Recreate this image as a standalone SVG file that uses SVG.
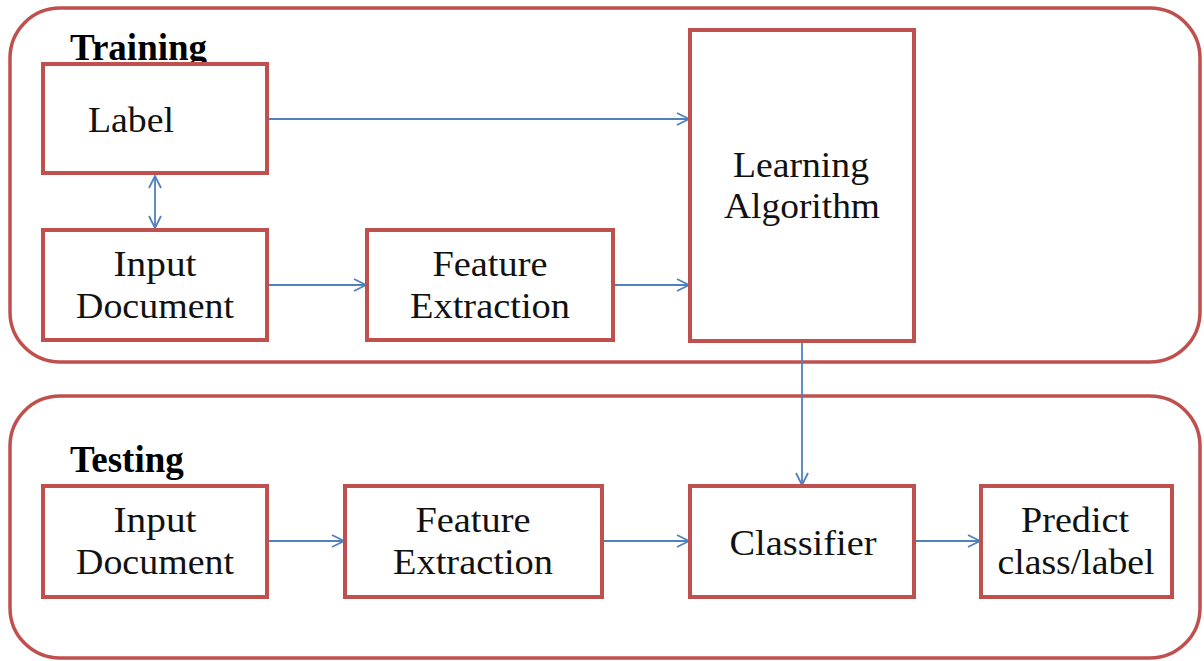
<svg xmlns="http://www.w3.org/2000/svg" width="1204" height="661" viewBox="0 0 1204 661">
<defs>
<style>
.box{fill:#fff;stroke:#c0504d;stroke-width:4}
.cont{fill:none;stroke:#c0504d;stroke-width:3.5}
.t{font-family:'Liberation Serif','Times New Roman',serif;font-size:36px;fill:#111;text-anchor:middle}
.h{font-family:'Liberation Serif','Times New Roman',serif;font-size:37px;font-weight:bold;fill:#000}
.c{fill:none;stroke:#4f81bd;stroke-width:1.8}
</style>
<marker id="ah" viewBox="0 0 14 14" refX="13" refY="7" markerWidth="14" markerHeight="14" markerUnits="userSpaceOnUse" orient="auto-start-reverse">
<path d="M1,1 L13,7 L1,13" fill="none" stroke="#4f81bd" stroke-width="1.8"/>
</marker>
</defs>
<rect width="1204" height="661" fill="#fff"/>
<g id="training">
<rect class="cont" x="10" y="8" width="1190" height="354" rx="50" ry="50"/>
<text class="h" x="70" y="60">Training</text>
</g>
<g id="testing">
<rect class="cont" x="10" y="396" width="1190" height="262" rx="50" ry="50"/>
<text class="h" x="70" y="472">Testing</text>
</g>
<g id="connectors">
<line class="c" x1="268" y1="119" x2="689" y2="119" marker-end="url(#ah)"/>
<line class="c" x1="155" y1="176" x2="155" y2="228" marker-start="url(#ah)" marker-end="url(#ah)"/>
<line class="c" x1="268" y1="285" x2="366" y2="285" marker-end="url(#ah)"/>
<line class="c" x1="614" y1="285" x2="689" y2="285" marker-end="url(#ah)"/>
<line class="c" x1="802" y1="342" x2="802" y2="485" marker-end="url(#ah)"/>
<line class="c" x1="268" y1="541" x2="344" y2="541" marker-end="url(#ah)"/>
<line class="c" x1="603" y1="541" x2="689" y2="541" marker-end="url(#ah)"/>
<line class="c" x1="915" y1="541" x2="980" y2="541" marker-end="url(#ah)"/>
</g>
<g id="label">
<rect class="box" x="43" y="64" width="224" height="109"/>
<text class="t" x="131" y="132" textLength="86" lengthAdjust="spacingAndGlyphs">Label</text>
</g>
<g id="input-doc-train">
<rect class="box" x="43" y="230" width="224" height="110"/>
<text class="t" x="155" y="276" textLength="83" lengthAdjust="spacingAndGlyphs">Input</text>
<text class="t" x="155" y="318" textLength="158" lengthAdjust="spacingAndGlyphs">Document</text>
</g>
<g id="feature-train">
<rect class="box" x="367" y="230" width="246" height="110"/>
<text class="t" x="490" y="276" textLength="115" lengthAdjust="spacingAndGlyphs">Feature</text>
<text class="t" x="490" y="318" textLength="160" lengthAdjust="spacingAndGlyphs">Extraction</text>
</g>
<g id="learning">
<rect class="box" x="690" y="30" width="224" height="311"/>
<text class="t" x="801" y="177" textLength="136" lengthAdjust="spacingAndGlyphs">Learning</text>
<text class="t" x="802" y="218" textLength="156" lengthAdjust="spacingAndGlyphs">Algorithm</text>
</g>
<g id="input-doc-test">
<rect class="box" x="43" y="486" width="224" height="111"/>
<text class="t" x="155" y="532" textLength="83" lengthAdjust="spacingAndGlyphs">Input</text>
<text class="t" x="155" y="574" textLength="158" lengthAdjust="spacingAndGlyphs">Document</text>
</g>
<g id="feature-test">
<rect class="box" x="345" y="486" width="257" height="111"/>
<text class="t" x="473" y="532" textLength="115" lengthAdjust="spacingAndGlyphs">Feature</text>
<text class="t" x="473" y="574" textLength="160" lengthAdjust="spacingAndGlyphs">Extraction</text>
</g>
<g id="classifier">
<rect class="box" x="690" y="486" width="224" height="111"/>
<text class="t" x="803" y="555" textLength="147" lengthAdjust="spacingAndGlyphs">Classifier</text>
</g>
<g id="predict">
<rect class="box" x="981" y="486" width="191" height="111"/>
<text class="t" x="1075" y="532" textLength="108" lengthAdjust="spacingAndGlyphs">Predict</text>
<text class="t" x="1076" y="574" textLength="157" lengthAdjust="spacingAndGlyphs">class/label</text>
</g>
</svg>
